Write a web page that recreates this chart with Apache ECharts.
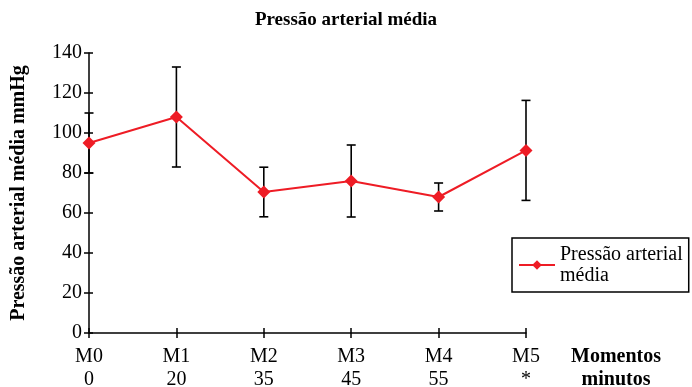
<!DOCTYPE html>
<html><head><meta charset="utf-8">
<script src="https://cdn.jsdelivr.net/npm/echarts@6/dist/echarts.min.js"></script>
<style>html,body{margin:0;padding:0;background:#fff}#c{width:692px;height:387px}</style>
</head><body><div id="c"></div>
<script>
var moments = ['M0','M1','M2','M3','M4','M5'];
var minutes = ['0','20','35','45','55','*'];
var means = [95, 108, 70.5, 76, 68, 91.3];
var errs = [15, 25, 12.4, 18, 7, 25];
var yTicks = [0,20,40,60,80,100,120,140];

var F = '"Liberation Serif","Times New Roman",serif';
var cats = moments.map(function(m,i){return m+'\n'+minutes[i];});
var chart = echarts.init(document.getElementById('c'));
var errData = means.map(function(v,i){return [i, v-errs[i], v+errs[i]];});
chart.setOption({
  animation:false,
  title:{text:'Pressão arterial média',left:'center',top:6,textStyle:{fontFamily:F,fontWeight:'bold',fontSize:19,color:'#000'}},
  grid:{left:89,right:166,top:53,bottom:54,outerBoundsMode:'none',containLabel:false},
  legend:{data:['Pressão arterial média'],left:512,top:238,width:160,orient:'vertical',borderColor:'#000',borderWidth:1.5,padding:[6,6,6,6],
    itemWidth:36,itemHeight:12,itemGap:0,
    formatter:function(){return 'Pressão arterial\nmédia';},
    textStyle:{fontFamily:F,fontSize:20,color:'#000',lineHeight:21}},
  xAxis:[{type:'category',data:cats,boundaryGap:false,
    axisLine:{lineStyle:{color:'#000',width:1.5}},
    axisTick:{alignWithLabel:true,length:5,lineStyle:{color:'#000',width:1.5}},
    axisLabel:{fontFamily:F,fontSize:20,color:'#000',lineHeight:23,margin:12},
    name:'Momentos\nminutos',nameLocation:'end',nameGap:90,
    nameTextStyle:{fontFamily:F,fontSize:20,fontWeight:'bold',color:'#000',lineHeight:23,align:'center',verticalAlign:'top',padding:[12,0,0,0]}},
    {type:'category',data:cats,boundaryGap:false,position:'bottom',
    axisLine:{show:false},axisTick:{inside:true,length:5,lineStyle:{color:'#000',width:1.5}},axisLabel:{show:false}}],
  yAxis:[{type:'value',min:0,max:140,interval:20,
    axisLine:{show:true,lineStyle:{color:'#000',width:1.5}},
    axisTick:{show:true,length:5,lineStyle:{color:'#000',width:1.5}},
    splitLine:{show:false},
    axisLabel:{fontFamily:F,fontSize:20,color:'#000',margin:7,formatter:function(v){return yTicks.indexOf(v)>=0?String(v):'';}},
    name:'Pressão arterial média mmHg',nameLocation:'middle',nameGap:60,
    nameTextStyle:{fontFamily:F,fontSize:20,fontWeight:'bold',color:'#000'}},
    {type:'value',min:0,max:140,interval:20,position:'left',
    axisLine:{show:false},axisTick:{show:true,inside:true,length:4,lineStyle:{color:'#000',width:1.5}},
    axisLabel:{show:false},splitLine:{show:false}}],
  series:[
    {type:'custom',name:'err',z:2,silent:true,
      renderItem:function(params,api){
        var x=api.value(0), lo=api.coord([x,api.value(1)]), hi=api.coord([x,api.value(2)]);
        var w=4.5, st={stroke:'#000',lineWidth:1.6};
        return {type:'group',children:[
          {type:'line',shape:{x1:hi[0],y1:hi[1],x2:lo[0],y2:lo[1]},style:st},
          {type:'line',shape:{x1:hi[0]-w,y1:hi[1],x2:hi[0]+w,y2:hi[1]},style:st},
          {type:'line',shape:{x1:lo[0]-w,y1:lo[1],x2:lo[0]+w,y2:lo[1]},style:st}]};
      },
      encode:{x:0,y:[1,2]},data:errData},
    {type:'line',name:'Pressão arterial média',data:means,z:3,
      symbol:'diamond',symbolSize:13,
      lineStyle:{color:'#ee1c25',width:2},itemStyle:{color:'#ee1c25'}}
  ]
});
</script></body></html>
